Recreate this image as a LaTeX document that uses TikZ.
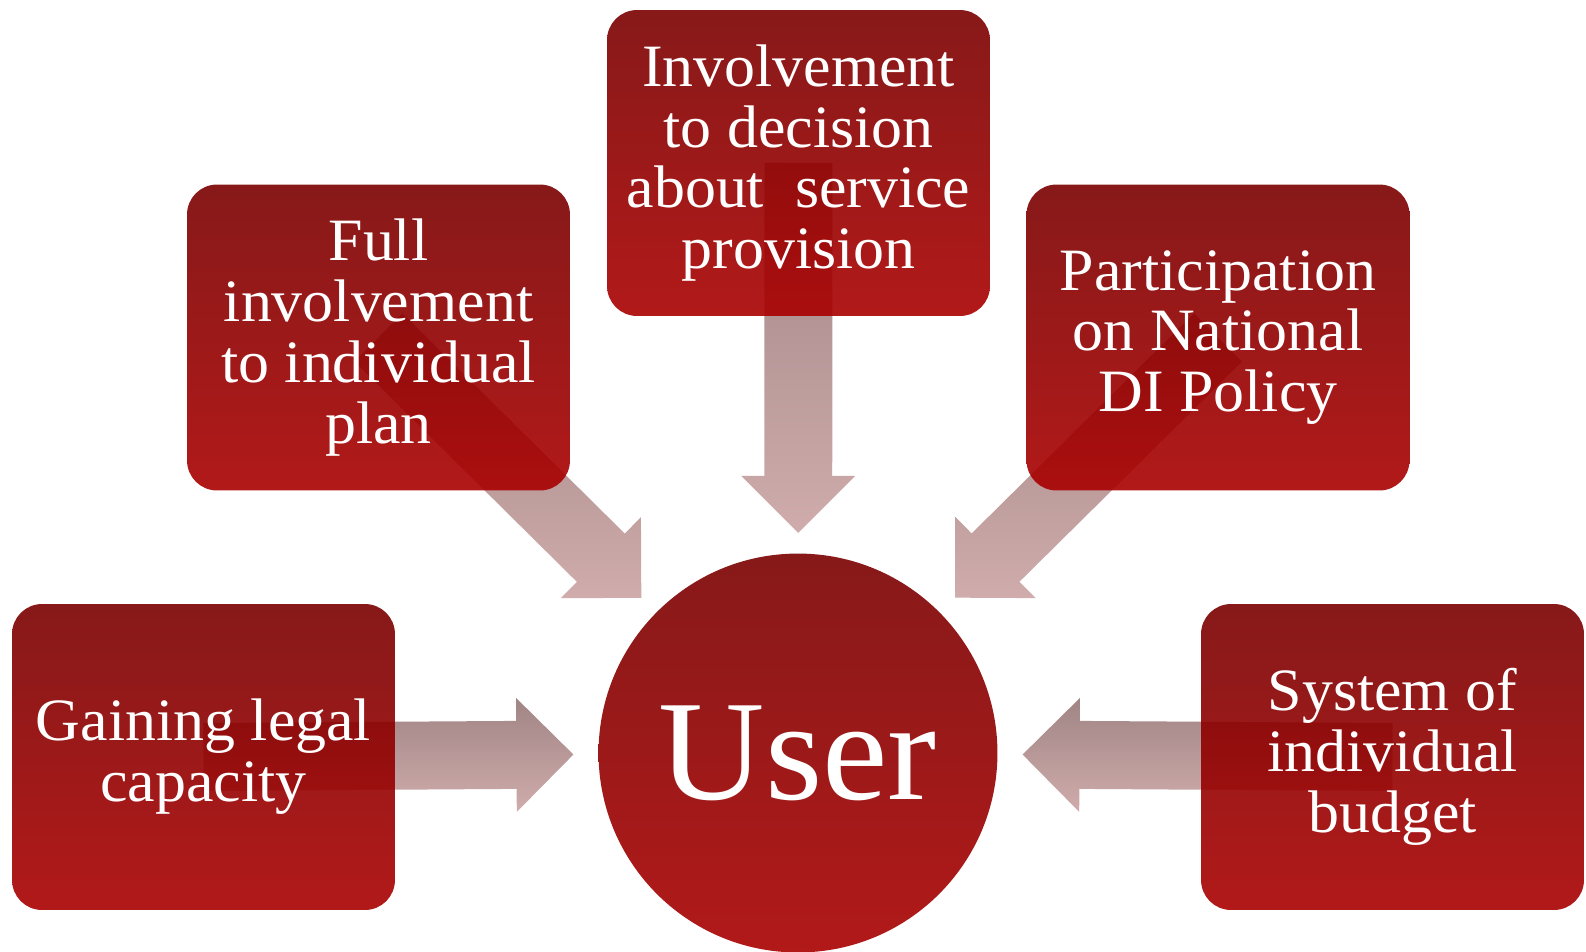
\documentclass[tikz,border=0pt]{standalone}
\usepackage{fontspec}
\setmainfont[FakeStretch=1.03]{Liberation Serif}
\usetikzlibrary{calc,backgrounds}
\definecolor{boxtop}{RGB}{123,0,0}
\definecolor{boxbot}{RGB}{170,0,0}
\definecolor{flowtop}{RGB}{160,132,132}
\definecolor{flowbot}{RGB}{208,172,172}

\begin{document}
\begin{tikzpicture}[
    x=0.02cm, y=-0.02cm,
    item/.style={rectangle, rounded corners=0.6cm, minimum width=7.66cm, minimum height=6.12cm, inner sep=0pt, top color=boxtop, bottom color=boxbot, fill opacity=0.9, text opacity=1, text=white, align=center, font=\fontsize{34.2pt}{34.6pt}\selectfont},
    hub/.style={circle, minimum size=7.98cm, inner sep=0pt, top color=boxtop, bottom color=boxbot, fill opacity=0.9, text opacity=1, text=white, font=\fontsize{81.4pt}{81.4pt}\selectfont},
    flow/.style={top color=flowtop, bottom color=flowbot},
]
    \useasboundingbox (0,0) rectangle (1586,951);

    \node[hub] (user) at (798,753) {User};
    \node[item] (decision) at (798.5,163) {Involvement\\to decision\\about~ service\\provision};
    \node[item] (plan) at (378.5,337.5) {Full\\involvement\\to individual\\plan};
    \node[item] (policy) at (1218,337.5) {Participation\\on National\\DI Policy};
    \node[item] (capacity) at (203.5,757) {Gaining legal\\capacity};
    \node[item] (budget) at (1392.5,757) {System of\\individual\\budget};

    % Block arrows from each box towards the user, kept under the boxes
    \begin{scope}[on background layer]
        \fill[white] (0,0) rectangle (1586,951);
        \foreach \b in {decision,plan,policy,capacity,budget} {
            \coordinate (\b-s) at ($(\b.center)!6.26cm!(user.center)$);
            \coordinate (\b-t) at ($(\b.center)!7.4cm!(user.center)$);
            \path[flow] ($(\b.center)!0.68cm!90:(user.center)$) -- ($(\b-s)!0.68cm!90:(user.center)$)
                -- ($(\b-s)!1.14cm!90:(user.center)$) -- (\b-t) -- ($(\b-s)!1.14cm!-90:(user.center)$)
                -- ($(\b-s)!0.68cm!-90:(user.center)$) -- ($(\b.center)!0.68cm!-90:(user.center)$) -- cycle;
        }
    \end{scope}
\end{tikzpicture}
\end{document}
